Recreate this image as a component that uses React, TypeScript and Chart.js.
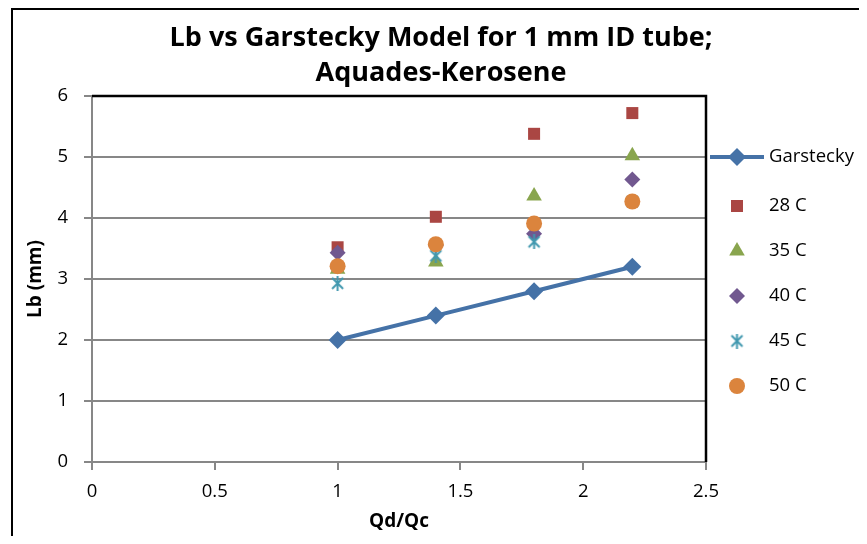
import React, { useEffect, useRef } from "react";
import { Chart, registerables } from "chart.js";
Chart.register(...registerables);

const titleLines = ["Lb vs Garstecky Model for 1 mm ID tube;", "Aquades-Kerosene"];
const xTitle = "Qd/Qc";
const yTitle = "Lb (mm)";
const qdqc = [1, 1.4, 1.8, 2.2];
const garstecky = [2.0, 2.4, 2.8, 3.2];
const t28 = [3.52, 4.02, 5.38, 5.72];
const t35 = [3.16, 3.28, 4.36, 5.02];
const t40 = [3.43, 3.55, 3.74, 4.63];
const t45 = [2.93, 3.38, 3.61, 4.27];
const t50 = [3.21, 3.57, 3.91, 4.27];
const seriesNames = ["Garstecky", "28 C", "35 C", "40 C", "45 C", "50 C"];
const xTicks = [0, 0.5, 1, 1.5, 2, 2.5];
const yTicks = [0, 1, 2, 3, 4, 5, 6];

const FONT = "'Open Sans', Lato, sans-serif";
const COLORS = ["#4572A7", "#AA4643", "#89A54E", "#71588F", "#4198AF", "#DB843D"];

function makeStar(color: string, size: number) {
  const c = document.createElement("canvas");
  c.width = size;
  c.height = size;
  const g = c.getContext("2d")!;
  g.strokeStyle = color;
  g.lineWidth = 2;
  const m = 2;
  g.beginPath();
  g.moveTo(m, m);
  g.lineTo(size - m, size - m);
  g.moveTo(size - m, m);
  g.lineTo(m, size - m);
  g.moveTo(size / 2, 0);
  g.lineTo(size / 2, size);
  g.stroke();
  return c;
}

function drawMarker(ctx: CanvasRenderingContext2D, style: any, r: number, x: number, y: number, color: string) {
  ctx.save();
  ctx.fillStyle = color;
  ctx.beginPath();
  if (style === "rectRot") {
    ctx.moveTo(x, y - r);
    ctx.lineTo(x + r, y);
    ctx.lineTo(x, y + r);
    ctx.lineTo(x - r, y);
    ctx.closePath();
    ctx.fill();
  } else if (style === "rect") {
    const s = Math.SQRT1_2 * r;
    ctx.rect(x - s, y - s, 2 * s, 2 * s);
    ctx.fill();
  } else if (style === "triangle") {
    const h = (r * 3) / 2;
    const w = r * Math.sqrt(3);
    ctx.moveTo(x, y - r);
    ctx.lineTo(x + w / 2, y + h - r);
    ctx.lineTo(x - w / 2, y + h - r);
    ctx.closePath();
    ctx.fill();
  } else if (style === "circle") {
    ctx.arc(x, y, r, 0, Math.PI * 2);
    ctx.fill();
  } else {
    ctx.drawImage(style, x - style.width / 2, y - style.height / 2);
  }
  ctx.restore();
}

export default function App() {
  const ref = useRef<HTMLCanvasElement>(null);
  useEffect(() => {
    const star = makeStar(COLORS[4], 15);
    const toPts = (ys: number[]) => qdqc.map((x, i) => ({ x, y: ys[i] }));
    const series = [garstecky, t28, t35, t40, t45, t50];
    const styles: any[] = ["rectRot", "rect", "triangle", "rectRot", star, "circle"];
    const radii = [9, 8.5, 9, 8, 7.5, 8];

    const datasets = series.map((ys, i) => ({
      label: seriesNames[i],
      data: toPts(ys),
      showLine: i === 0,
      order: series.length - i,
      borderColor: COLORS[i],
      backgroundColor: COLORS[i],
      borderWidth: i === 0 ? 4 : 0,
      pointStyle: styles[i],
      pointRadius: radii[i],
      pointBackgroundColor: COLORS[i],
      pointBorderColor: COLORS[i],
      pointBorderWidth: 0,
    }));

    const decor = {
      id: "decor",
      beforeDraw(chart: any) {
        const ctx = chart.ctx;
        ctx.save();
        ctx.fillStyle = "#fff";
        ctx.fillRect(0, 0, chart.width, chart.height);
        ctx.strokeStyle = "#000";
        ctx.lineWidth = 2;
        ctx.beginPath();
        ctx.moveTo(4, chart.height + 5);
        ctx.lineTo(4, 1);
        ctx.lineTo(chart.width + 5, 1);
        ctx.stroke();
        ctx.fillStyle = "#000";
        ctx.font = `bold 27px ${FONT}`;
        ctx.textAlign = "center";
        ctx.textBaseline = "middle";
        ctx.fillText(titleLines[0], 433, 30);
        ctx.fillText(titleLines[1], 433, 65);
        ctx.restore();
      },
      beforeDatasetsDraw(chart: any) {
        const ctx = chart.ctx;
        const a = chart.chartArea;
        ctx.save();
        ctx.strokeStyle = "#000";
        ctx.lineWidth = 2.5;
        ctx.beginPath();
        ctx.moveTo(a.left, a.top);
        ctx.lineTo(a.right, a.top);
        ctx.lineTo(a.right, a.bottom);
        ctx.stroke();
        ctx.restore();
      },
      afterDraw(chart: any) {
        const ctx = chart.ctx;
        ctx.save();
        const mx = 729;
        const tx = 761;
        const ys = [149, 198, 243, 288, 333, 378];
        chart.data.datasets.forEach((ds: any, i: number) => {
          const y = ys[i];
          if (i === 0) {
            ctx.strokeStyle = ds.borderColor;
            ctx.lineWidth = 4;
            ctx.beginPath();
            ctx.moveTo(702, y);
            ctx.lineTo(756, y);
            ctx.stroke();
          }
          drawMarker(ctx, ds.pointStyle, ds.pointRadius, mx, y, ds.pointBackgroundColor);
          ctx.fillStyle = "#000";
          ctx.font = `18.5px ${FONT}`;
          ctx.textAlign = "left";
          ctx.textBaseline = "middle";
          ctx.fillText(ds.label, tx, y);
        });
        ctx.restore();
      },
    };

    const chart = new Chart(ref.current!, {
      type: "scatter",
      data: { datasets: datasets as any },
      options: {
        animation: false,
        responsive: false,
        devicePixelRatio: 1,
        layout: { padding: { left: 0, right: 161, top: 88, bottom: 0 } },
        plugins: { legend: { display: false }, title: { display: false }, tooltip: { enabled: false } },
        scales: {
          x: {
            type: "linear",
            min: 0,
            max: 2.5,
            afterBuildTicks: (s: any) => {
              s.ticks = xTicks.map((v) => ({ value: v }));
            },
            afterFit: (s: any) => {
              s.height = 74;
            },
            ticks: { color: "#000", font: { family: FONT, size: 18.5 }, padding: 11, callback: (v: any) => String(v) },
            grid: { display: true, drawOnChartArea: false, color: "#878787", lineWidth: 2, tickLength: 8 },
            border: { color: "#878787", width: 2 },
            title: { display: true, text: xTitle, color: "#000", font: { family: FONT, size: 19, weight: "bold" }, padding: { top: 0, bottom: 3 } },
          },
          y: {
            type: "linear",
            min: 0,
            max: 6,
            afterBuildTicks: (s: any) => {
              s.ticks = yTicks.map((v) => ({ value: v }));
            },
            afterFit: (s: any) => {
              s.width = 84;
            },
            ticks: { color: "#000", font: { family: FONT, size: 18.5 }, padding: 16, callback: (v: any) => String(v) },
            grid: { color: "#878787", lineWidth: 2, tickLength: 8 },
            border: { color: "#878787", width: 2 },
            title: { display: true, text: yTitle, color: "#000", font: { family: FONT, size: 19, weight: "bold" }, padding: { top: 16, bottom: 0 } },
          },
        },
      },
      plugins: [decor],
    });
    return () => chart.destroy();
  }, []);
  return (
    <div style={{ width: 859, height: 528, overflow: "hidden" }}>
      <canvas ref={ref} width={859} height={528} style={{ width: 859, height: 528, display: "block" }} />
    </div>
  );
}
